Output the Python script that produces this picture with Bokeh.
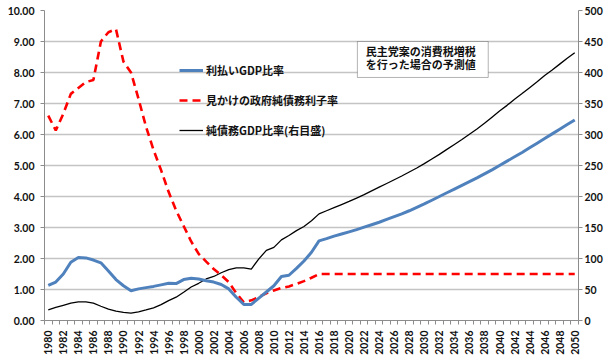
import math
from bokeh.plotting import figure
from bokeh.models import (Range1d, LinearAxis, FixedTicker, PrintfTickFormatter,
                          Legend, LegendItem, BoxAnnotation, Label)
from bokeh.embed import file_html
from bokeh.resources import INLINE

# ---------------- data ----------------
years = list(range(1980, 2051))

# 利払いGDP比率 (left axis, %)
interest_gdp = [
    1.13, 1.24, 1.50, 1.88, 2.03, 2.02, 1.95, 1.86, 1.60, 1.32,
    1.12, 0.96, 1.02, 1.06, 1.10, 1.15, 1.20, 1.19, 1.32, 1.36,
    1.34, 1.28, 1.24, 1.16, 1.02, 0.75, 0.52, 0.52, 0.72, 0.92,
    1.12, 1.42, 1.46, 1.68, 1.92, 2.20, 2.57, 2.64, 2.72, 2.79,
    2.86, 2.93, 3.01, 3.09, 3.17, 3.26, 3.35, 3.44, 3.54, 3.65,
    3.76, 3.88, 4.00, 4.12, 4.24, 4.36, 4.48, 4.60, 4.73, 4.86,
    5.00, 5.14, 5.28, 5.42, 5.57, 5.72, 5.87, 6.02, 6.17, 6.32,
    6.47,
]

# 見かけの政府純債務利子率 (left axis, %)
apparent_rate = [
    6.61, 6.13, 6.67, 7.31, 7.50, 7.69, 7.76, 9.00, 9.30, 9.40,
    8.35, 8.00, 7.15, 6.25, 5.50, 4.85, 4.15, 3.55, 3.05, 2.55,
    2.15, 1.90, 1.66, 1.46, 1.24, 0.88, 0.59, 0.65, 0.76, 0.88,
    0.97, 1.05, 1.10, 1.18, 1.27, 1.38, 1.50, 1.50, 1.50, 1.50,
    1.50, 1.50, 1.50, 1.50, 1.50, 1.50, 1.50, 1.50, 1.50, 1.50,
    1.50, 1.50, 1.50, 1.50, 1.50, 1.50, 1.50, 1.50, 1.50, 1.50,
    1.50, 1.50, 1.50, 1.50, 1.50, 1.50, 1.50, 1.50, 1.50, 1.50,
    1.50,
]

# 純債務GDP比率 (right axis, %)
net_debt_gdp = [
    17, 21, 24.5, 28, 30, 30, 28, 23, 18.5, 15,
    13, 12, 14, 17, 20.5, 25.5, 32, 37.6, 45.7, 54,
    60, 67, 71, 77, 82, 85, 85, 83, 99.5, 113,
    118, 130, 137, 145, 151.6, 161, 172, 177, 182, 187,
    192, 197.5, 203, 209, 215, 221, 227, 233, 239.5, 246,
    253, 260.5, 268, 276, 284, 292, 300.5, 309, 318, 328,
    338, 347, 357, 366, 375.5, 385, 395, 404, 413.5, 423,
    432,
]

left_ticks = [0, 1, 2, 3, 4, 5, 6, 7, 8, 9, 10]
right_ticks = [0, 50, 100, 150, 200, 250, 300, 350, 400, 450, 500]
label_years = years[::2]
year_bounds = [y - 0.5 for y in years] + [years[-1] + 0.5]

legend_labels = ["利払いGDP比率", "見かけの政府純債務利子率", "純債務GDP比率(右目盛)"]
note_lines = ["民主党案の消費税増税", "を行った場合の予測値"]

# ---------------- styling ----------------
TICK_FONT = "Lato"
JP_FONT = "Noto Sans CJK JP"
AXIS_GRAY = "#8c8c8c"

p = figure(width=612, height=357, output_backend="svg", toolbar_location=None,
           x_range=Range1d(years[0] - 0.5, years[-1] + 0.5),
           y_range=Range1d(0, 10),
           min_border_top=10, min_border_right=34, min_border_left=44,
           min_border_bottom=37)
p.outline_line_color = None
p.background_fill_color = "white"
p.extra_y_ranges = {"right": Range1d(0, 500)}

# grid
p.xgrid.visible = False
p.ygrid.ticker = FixedTicker(ticks=left_ticks)
p.ygrid.grid_line_color = "#c4c4c4"
p.ygrid.grid_line_width = 1.6

# left axis
ya = p.yaxis[0]
ya.ticker = FixedTicker(ticks=left_ticks)
ya.formatter = PrintfTickFormatter(format="%.2f")
ya.minor_tick_line_color = None
ya.major_tick_in = 0
ya.major_tick_out = 4
ya.major_label_standoff = 6

# right axis
ra = LinearAxis(y_range_name="right", ticker=FixedTicker(ticks=right_ticks))
ra.minor_tick_line_color = None
ra.major_tick_in = 0
ra.major_tick_out = 4
ra.major_label_standoff = 2
p.add_layout(ra, "right")

# bottom axis
xa = p.xaxis[0]
xa.ticker = FixedTicker(ticks=label_years, minor_ticks=year_bounds)
xa.major_tick_in = 0
xa.major_tick_out = 0
xa.minor_tick_in = 0
xa.minor_tick_out = 4
xa.major_label_orientation = math.pi / 2
xa.major_label_standoff = 6

for ax in (ya, ra, xa):
    ax.axis_line_color = AXIS_GRAY
    ax.major_tick_line_color = AXIS_GRAY
    ax.major_label_text_font = TICK_FONT
    ax.major_label_text_font_size = "10.5px"
    ax.major_label_text_font_style = "bold"
    ax.major_label_text_color = "#111111"
xa.minor_tick_line_color = AXIS_GRAY

# ---------------- series ----------------
r_black = p.line(years, net_debt_gdp, y_range_name="right",
                 line_color="black", line_width=1.3)
r_red = p.line(years, apparent_rate, line_color="#ff0000", line_width=2.6,
               line_dash="8 5")
r_blue = p.line(years, interest_gdp, line_color="#4f81bd", line_width=3)

legend = Legend(items=[LegendItem(label=legend_labels[0], renderers=[r_blue]),
                       LegendItem(label=legend_labels[1], renderers=[r_red]),
                       LegendItem(label=legend_labels[2], renderers=[r_black])],
                location=(135, 180), glyph_width=24, glyph_height=20,
                label_height=20, spacing=10, padding=0, margin=0,
                label_standoff=3, border_line_color=None,
                background_fill_alpha=0,
                label_text_font=JP_FONT, label_text_font_size="11px",
                label_text_font_style="bold", label_text_color="#111111")
p.add_layout(legend)

# note box
box = BoxAnnotation(left=2021.1, right=2038.5, top=9.0, bottom=7.84,
                    fill_color="white", fill_alpha=1.0,
                    line_color="black", line_width=1)
p.add_layout(box)
for txt, yv in zip(note_lines, [8.69, 8.29]):
    p.add_layout(Label(x=2022.2, y=yv, text=txt, text_baseline="middle",
                       text_font=JP_FONT, text_font_size="11px",
                       text_font_style="bold", text_color="#111111"))

open("out.html", "w").write(file_html(p, INLINE))
